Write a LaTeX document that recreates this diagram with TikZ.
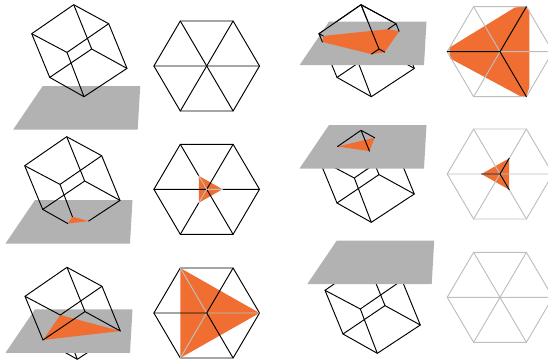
\documentclass[tikz,border=0pt]{standalone}
\usetikzlibrary{calc}
\definecolor{planeC}{HTML}{B2B2B2}
\definecolor{orangeC}{HTML}{F06E32}
\definecolor{ghost}{HTML}{BEBEBE}
\tikzset{
  wire/.style={draw=black,line width=0.95pt,line cap=round,line join=round},
  dim/.style={draw=ghost,line width=0.95pt,line cap=round,line join=round},
  planeS/.style={fill=planeC,draw=none},
  sect/.style={fill=orangeC,draw=none}
}
% cube: #1 prefix, #2 position of the lowest vertex
\newcommand{\cubeAt}[3]{%
  \coordinate (#1B) at (#2,#3);
  \coordinate (#1L) at ($(#1B)+(-34.3,-19.3)$);
  \coordinate (#1S) at ($(#1B)+(43,-28.3)$);
  \coordinate (#1F) at ($(#1B)+(-17,-44.3)$);
  \coordinate (#1U) at ($(#1B)+(-52.3,-63)$);
  \coordinate (#1R) at ($(#1B)+(24.7,-73)$);
  \coordinate (#1G) at ($(#1B)+(7.7,-47.7)$);
  \coordinate (#1T) at ($(#1B)+(-10.3,-92)$);
}
\newcommand{\cubeEdges}[2][wire]{%
  \draw[#1] (#2T)--(#2U)--(#2L)--(#2B)--(#2S)--(#2R)--cycle;
  \draw[#1] (#2T)--(#2G) (#2S)--(#2G)--(#2L);
  \draw[#1] (#2U)--(#2F)--(#2R) (#2F)--(#2B);
}
\newcommand{\planeAt}[2]{%
  \fill[planeS] (#1,#2) -- ++(97.5,0) -- ++(-2.5,43.5) -- ++(-124.5,0) -- cycle;
}
% hexagon: #1 prefix, #2 centre
\newcommand{\hexAt}[3]{%
  \coordinate (#1C) at (#2,#3);
  \coordinate (#1a) at ($(#1C)+(-26.4,-45)$);
  \coordinate (#1b) at ($(#1C)+(26.4,-45)$);
  \coordinate (#1c) at ($(#1C)+(52.8,0)$);
  \coordinate (#1d) at ($(#1C)+(26.4,45)$);
  \coordinate (#1e) at ($(#1C)+(-26.4,45)$);
  \coordinate (#1f) at ($(#1C)+(-52.8,0)$);
}
\newcommand{\hexOuter}[2][wire]{\draw[#1] (#2a)--(#2b)--(#2c)--(#2d)--(#2e)--(#2f)--cycle;}
\newcommand{\hexLow}[2][wire]{\draw[#1] (#2C)--(#2a) (#2C)--(#2c) (#2C)--(#2e);}
\newcommand{\hexHigh}[2][wire]{\draw[#1] (#2C)--(#2b) (#2C)--(#2d) (#2C)--(#2f);}
\begin{document}
\begin{tikzpicture}[x=1pt,y=-1pt]
\useasboundingbox (0,0) rectangle (548,360);
\clip (0,0) rectangle (548,360);
% ---- panel 1
\cubeAt{p}{84}{96.7}
\planeAt{42.7}{86}
\cubeEdges{p}
\hexAt{h}{206.7}{66}
\hexOuter{h}\hexLow{h}\hexHigh{h}
% ---- panel 2
\cubeAt{q}{77}{228.7}
\planeAt{35}{200}
\fill[sect] ($(qB)!.27!(qL)$)--($(qB)!.27!(qF)$)--($(qB)!.27!(qS)$)--cycle;
\draw[wire] (qT)--(qU)--(qL)--($(qL)!.73!(qB)$) ($(qB)!.27!(qS)$)--(qS)--(qR)--(qT);
\draw[wire] (qT)--(qG) (qS)--(qG)--(qL);
\draw[wire] (qU)--(qF)--(qR) (qF)--($(qB)!.27!(qF)$);
\hexAt{i}{206.7}{189.3}
\fill[sect] ($(iC)!.3!(ia)$)--($(iC)!.3!(ic)$)--($(iC)!.3!(ie)$)--cycle;
\hexOuter{i}\hexHigh{i}
\draw[wire] ($(iC)!.3!(ia)$)--(ia) ($(iC)!.3!(ic)$)--(ic) ($(iC)!.3!(ie)$)--(ie);
\draw[dim] (iC)--($(iC)!.3!(ia)$) (iC)--($(iC)!.3!(ic)$) (iC)--($(iC)!.3!(ie)$);
% ---- panel 3
\cubeAt{r}{77.3}{359.3}
\draw[wire] (rL)--(rB)--(rS) (rF)--(rB);
\planeAt{35}{309.3}
\fill[sect] (rF)--(rS)--(rL)--cycle;
\draw[wire] (rT)--(rU)--(rL) (rS)--(rR)--(rT);
\draw[wire] (rT)--(rG) (rS)--(rG)--(rL);
\draw[wire] (rU)--(rF)--(rR);
\hexAt{j}{206.7}{313}
\fill[sect] (ja)--(jc)--(je)--cycle;
\hexOuter{j}
\hexLow[dim]{j}
\hexHigh{j}
% ---- panel 4
\cubeAt{s}{371.3}{96.7}
\cubeEdges{s}
\planeAt{329}{21.7}
\coordinate (s1) at ($(sU)!.19!(sL)$);
\coordinate (s2) at ($(sU)!.12!(sF)$);
\coordinate (s3) at ($(sR)!.19!(sF)$);
\coordinate (s4) at ($(sR)!.17!(sS)$);
\coordinate (s5) at ($(sG)!.16!(sS)$);
\coordinate (s6) at ($(sG)!.18!(sL)$);
\fill[sect] (s1)--(s2)--(s3)--(s4)--(s5)--(s6)--cycle;
\draw[wire] (sU)--(sT)--(sR) (sT)--(sG);
\draw[wire] (sU)--(s1) (sU)--(s2) (sR)--(s3) (sR)--(s4) (sG)--(s5) (sG)--(s6);
\hexAt{k}{500}{51.7}
\fill[sect] ($(kC)+(-50.7,-4)$)--($(kC)+(15,-44.3)$)--(kb)--($(kC)+(29.3,-41.7)$)--($(kC)+(29.3,35.7)$)--(kd)--($(kC)+(20,44.3)$)--($(kC)+(-50,6.7)$)--cycle;
\hexOuter[dim]{k}\hexLow[dim]{k}
\draw[wire] (kC)--(kb) (kC)--(kd) (kC)--(kf);
% ---- panel 5
\cubeAt{t}{371.3}{222.3}
\cubeEdges{t}
\planeAt{329}{125}
\coordinate (t1) at ($(tT)!.56!(tU)$);
\coordinate (t2) at ($(tT)!.39!(tR)$);
\coordinate (t3) at ($(tT)!.47!(tG)$);
\fill[sect] (t1)--(t2)--(t3)--cycle;
\draw[wire] (t1)--(tT)--(t2) (tT)--(t3);
\hexAt{l}{500}{174}
\fill[sect] ($(lC)!.35!(lf)$)--($(lC)!.35!(lb)$)--($(lC)!.35!(ld)$)--cycle;
\hexOuter[dim]{l}\hexLow[dim]{l}\hexHigh[dim]{l}
\draw[wire] (lC)--($(lC)!.35!(lf)$) (lC)--($(lC)!.35!(lb)$) (lC)--($(lC)!.35!(ld)$);
% ---- panel 6
\cubeAt{u}{377.3}{353.3}
\cubeEdges{u}
\planeAt{336.7}{240.7}
\hexAt{m}{500}{297.3}
\hexOuter[dim]{m}\hexLow[dim]{m}\hexHigh[dim]{m}
\end{tikzpicture}
\end{document}
